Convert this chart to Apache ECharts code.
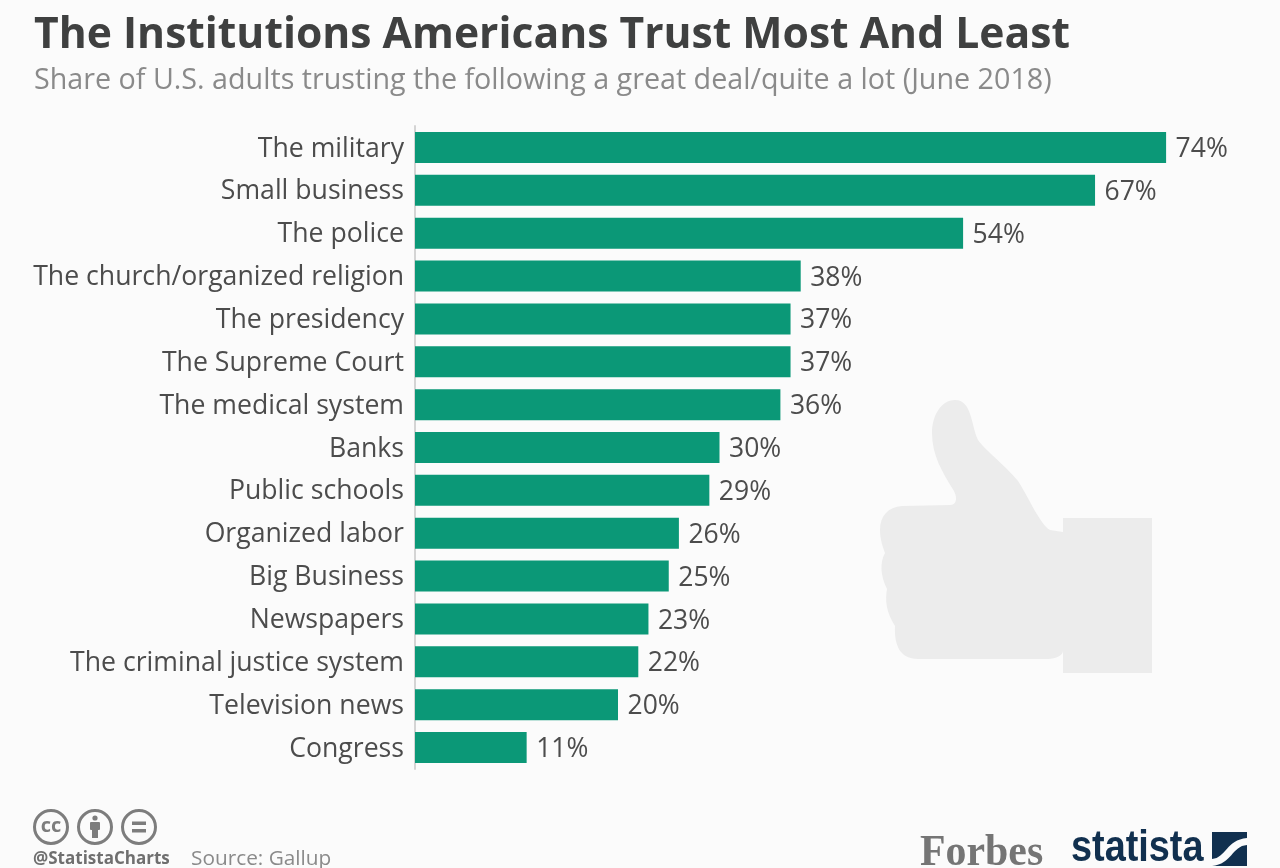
<!DOCTYPE html>
<html><head><meta charset="utf-8">
<style>html,body{margin:0;padding:0;background:#fbfbfb}#c{width:1280px;height:868px}</style>
<script src="https://cdn.jsdelivr.net/npm/echarts@6/dist/echarts.min.js"></script>
</head><body><div id="c"></div>
<script>
const categories = ["The military","Small business","The police","The church/organized religion","The presidency","The Supreme Court","The medical system","Banks","Public schools","Organized labor","Big Business","Newspapers","The criminal justice system","Television news","Congress"];
const shares = [74,67,54,38,37,37,36,30,29,26,25,23,22,20,11];
const titleText = "The Institutions Americans Trust Most And Least";
const subtitleText = "Share of U.S. adults trusting the following a great deal/quite a lot (June 2018)";
const font = "'Open Sans'";
const thumb = "M955 400C941 400 932 416 932 433C932 455 942 472 954 491C958 499 956 505 950 505L902 506C888 507 880 516 880 530C880 540 883 547 885 553C880 562 880 575 887 589C885 600 886 612 895 626C894 645 900 659 918 659L1048 659C1056 659 1063 655 1063 651L1063 532L1050 530C1040 524 1030 500 1018 481C1005 465 985 450 978 440C971 425 972 400 955 400Z";
const swoosh = "M1212 859C1226 858 1226 840 1247 838L1247 845C1232 846 1232 864 1212 866Z";
echarts.graphic.registerShape('thumbShape', echarts.graphic.extendPath(thumb));
echarts.graphic.registerShape('swooshShape', echarts.graphic.extendPath(swoosh));
const chart = echarts.init(document.getElementById('c'), null, {renderer:'canvas'});
const gray = '#7d7d7d';
chart.setOption({
  backgroundColor:'#fbfbfb',
  animation:false,
  title:[
    {text:titleText,left:34,top:8,padding:0,textStyle:{fontFamily:font,fontWeight:700,fontSize:42.65,color:'#3f4040',lineHeight:56}},
    {text:subtitleText,left:34,top:62,padding:0,textStyle:{fontFamily:font,fontWeight:400,fontSize:28.7,color:'#8a8a8a',lineHeight:38}}
  ],
  grid:{left:415,top:126,width:812,height:643,containLabel:false},
  xAxis:{type:'value',min:0,max:80,show:false},
  yAxis:{type:'category',inverse:true,data:categories,
    axisLine:{show:true,lineStyle:{color:'#d4d4d4',width:2}},axisTick:{show:false},
    axisLabel:{margin:11,formatter:v=>'{a|'+v+'}',
      rich:{a:{fontFamily:font,fontSize:26.65,color:'#4c4c4c',padding:[3,0,0,0]}}}},
  series:[{type:'bar',data:shares,barWidth:31,z:3,
    itemStyle:{color:'#0b9877'},
    label:{show:true,position:'right',distance:9.5,formatter:'{c}%',fontFamily:font,fontSize:26.5,color:'#4c4c4c',offset:[0,2]}}],
  graphic:[
    {type:'thumbShape',z:-1,style:{fill:'#ececec'}},
    {type:'rect',z:-1,shape:{x:1063,y:518,width:89,height:155},style:{fill:'#ececec'}},
    {type:'circle',shape:{cx:51,cy:827,r:16.5},style:{fill:'none',stroke:gray,lineWidth:3}},
    {type:'circle',shape:{cx:95,cy:827,r:16.5},style:{fill:'none',stroke:gray,lineWidth:3}},
    {type:'circle',shape:{cx:139,cy:827,r:16.5},style:{fill:'none',stroke:gray,lineWidth:3}},
    {type:'text',style:{x:51,y:826,text:'cc',align:'center',verticalAlign:'middle',font:"bold 20px 'Open Sans'",fill:gray}},
    {type:'circle',shape:{cx:95,cy:818,r:2.6},style:{fill:gray}},
    {type:'rect',shape:{x:90,y:822,width:10,height:8,r:1},style:{fill:gray}},
    {type:'rect',shape:{x:92,y:828,width:6,height:10},style:{fill:gray}},
    {type:'rect',shape:{x:132,y:821.5,width:14,height:3.5},style:{fill:gray}},
    {type:'rect',shape:{x:132,y:829,width:14,height:3.5},style:{fill:gray}},
    {type:'text',style:{x:33,y:859,text:'@StatistaCharts',align:'left',verticalAlign:'middle',font:"bold 17px 'Open Sans'",fill:'#6f6f6f'}},
    {type:'text',style:{x:191,y:859,text:'Source: Gallup',align:'left',verticalAlign:'middle',font:"20.8px 'Open Sans'",fill:'#8a8a8a'}},
    {type:'text',scaleX:0.93,x:920,style:{x:0,y:853,text:'Forbes',align:'left',verticalAlign:'middle',font:"bold 45px 'Liberation Serif'",fill:'#757575'}},
    {type:'text',scaleX:0.86,x:1071,style:{x:0,y:849,text:'statista',align:'left',verticalAlign:'middle',font:"bold 44px 'Liberation Sans'",fill:'#11304f'}},
    {type:'rect',shape:{x:1212,y:832,width:35,height:34},style:{fill:'#11304f'}},
    {type:'swooshShape',style:{fill:'#fbfbfb'}}
  ]
});
</script></body></html>
